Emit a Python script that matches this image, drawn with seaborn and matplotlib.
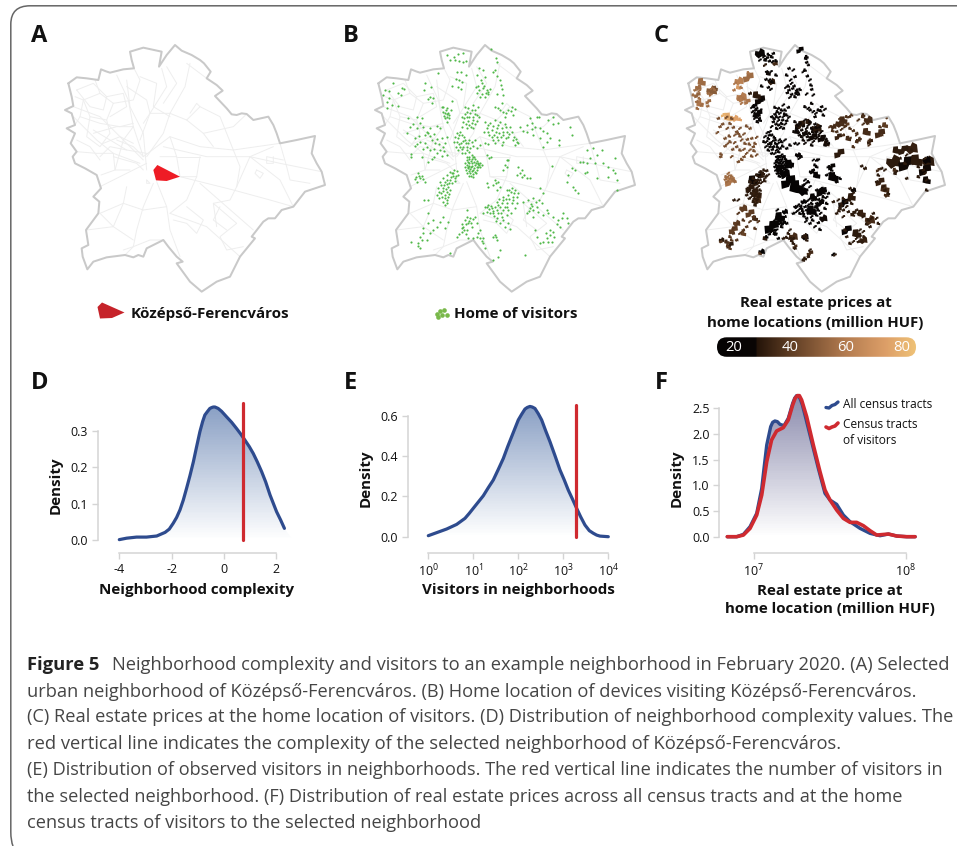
import numpy as np
import matplotlib
matplotlib.use("Agg")
import matplotlib.pyplot as plt
import seaborn as sns
from matplotlib.path import Path
from matplotlib.patches import PathPatch, Polygon, FancyBboxPatch
from matplotlib.colors import LinearSegmentedColormap
from matplotlib.ticker import LogFormatterMathtext, NullLocator, FixedLocator

sns.set_theme(style="white")
FONT = "Open Sans"
plt.rcParams["font.family"] = [FONT, "DejaVu Sans"]
plt.rcParams["mathtext.default"] = "regular"

W, H = 957, 846
BLUE, RED, INK = "#2e4b8e", "#cf2a30", "#111111"
GREY_AX = "#d4d4d4"

# ---------- map geometry (traced, units are 1/3 px) ----------
outline = [(205,250),(230,232),(260,235),(295,240),(303,208),(318,214),(330,218),(370,208),(402,205),(395,180),(390,155),(430,143),(485,155),(477,200),(500,165),(525,135),(545,152),(575,165),(600,180),(612,190),(632,215),(620,235),(650,255),(668,272),(645,288),(680,325),(695,343),(710,345),(725,340),(740,342),(760,360),(805,350),(820,375),(830,400),(840,430),(890,420),(945,408),(935,460),(950,490),(965,515),(975,555),(915,575),(880,620),(845,630),(825,655),(805,655),(790,665),(755,710),(765,715),(720,770),(690,830),(650,845),(605,875),(570,845),(530,790),(548,785),(530,770),(505,740),(490,720),(440,745),(430,770),(415,765),(400,772),(375,765),(320,772),(280,785),(262,808),(248,770),(245,745),(265,735),(258,690),(295,640),(298,605),(280,590),(303,565),(290,525),(255,505),(225,490),(218,470),(230,455),(212,430),(225,400),(200,385),(225,375),(215,340),(195,330),(220,318),(215,290),(205,250)]
tract_lines = [
 [(570,190),(555,260),(510,340),(490,400),(440,470)],
 [(350,225),(385,300),(400,380),(430,470)],
 [(485,205),(500,260),(450,340),(420,420)],
 [(220,320),(300,350),(370,420),(430,480)],
 [(215,345),(290,420),(340,460),(420,490)],
 [(430,470),(510,410),(600,440),(700,450),(840,430)],
 [(490,440),(620,470),(750,470),(840,490),(965,515)],
 [(540,530),(700,570),(810,600),(880,620)],
 [(600,470),(590,530),(560,600),(510,640)],
 [(470,545),(500,620),(510,690),(540,770)],
 [(460,550),(430,620),(410,690),(400,740),(375,765)],
 [(300,560),(380,520),(440,490)],
 [(300,640),(370,610),(430,630)],
 [(510,640),(620,680),(720,770)],
 [(600,550),(680,620),(760,690)],
 [(820,440),(750,470),(710,560),(690,600),(640,610),(650,680)],
 [(250,300),(300,280),(340,310),(320,360),(270,350),(250,300)],
 [(300,280),(285,240)],[(340,310),(400,300),(420,240),(402,205)],
 [(225,290),(250,300),(240,350),(225,375)],
 [(270,350),(260,410),(300,440),(330,400),(320,360)],
 [(230,455),(290,460),(340,460),(345,510),(303,525)],
 [(400,380),(370,420),(345,510),(390,510)],
 [(510,340),(560,360),(600,320),(590,310),(570,340)],
 [(600,320),(660,350),(700,450)],
 [(560,360),(610,400),(640,440)],
 [(610,400),(700,380),(740,342)],
 [(850,480),(800,470),(800,490),(820,490),(820,470)],
 [(770,510),(790,520),(780,535),(765,520),(770,510)],
 [(840,430),(860,500),(870,540),(930,550)],
 [(560,620),(610,660),(590,700),(560,670),(520,660)],
 [(640,610),(710,670),(660,710),(680,750),(730,740)],
 [(660,620),(640,660),(680,690)],
 [(380,560),(370,610),(340,680),(300,640)],
 [(340,680),(400,720)],[(260,690),(340,680)],
 [(370,750),(400,740),(450,720),(490,720)],
 [(430,630),(500,620)],[(440,540),(450,550),(440,550),(440,540)],
 [(480,470),(530,470),(540,530),(590,530)],
 [(530,470),(600,470)],[(510,410),(530,470)],
 [(700,450),(720,500),(710,560)],[(750,470),(840,540),(880,620)],
 [(380,260),(440,300),(450,340),(510,340)],[(560,190),(620,235)],
 [(350,420),(400,440),(430,470)],[(280,400),(350,380),(400,380)],
 [(300,470),(330,440),(380,450)],[(430,370),(450,340)],
 [(230,270),(280,250),(320,290),(310,330),(270,320),(230,270)],
 [(320,290),(370,280),(380,320),(330,350)],
 [(380,240),(390,320),(430,400),(440,510)],
 [(420,230),(470,250),(460,320),(510,350)],
 [(240,350),(300,370),(360,380),(400,370)],
 [(280,390),(330,420),(380,450),(440,460)],
 [(230,420),(270,440),(300,480)],
 [(340,470),(410,490),(430,510)],
 [(310,430),(360,410),(400,430)],
 [(500,200),(530,250),(490,310)],
]
selected_tract = [(460,510),(472,495),(540,530),(500,543),(468,541)]

# ---------- panels B and C: homes of visitors, grouped by district with the price of that district ----------
nw_hills = [(165,270),(178,272),(160,285),(190,250),(215,265),(223,268),(205,280),(212,285),(178,295),(170,305),(185,315),(172,325),(203,318)]
nw_upper = [(285,250),(303,262),(282,270),(300,290),(310,295),(295,298),(305,310),(325,218)]
north_pocket = [(352,165),(372,170),(385,163),(400,160),(360,180),(375,180),(388,183),(398,185),(408,182),(380,215),(393,215),(408,225),(378,238),(388,240),(396,245),(385,262),(393,268),(365,258),(365,302)]
north_east = [(483,147),(497,175),(500,187),(490,215),(495,210),(502,228),(510,240),(513,255),(515,268),(520,285),(515,310),(447,205),(460,210),(440,225),(465,230),(452,240),(445,258),(458,265),(470,270),(480,268),(442,278),(450,292),(465,290),(475,283),(500,282),(495,320),(510,330),(520,335),(535,330),(545,320),(555,328),(550,345),(525,350),(455,250),(468,280),(447,270),(505,325),(542,332),(462,258),(438,262),(473,275),(455,283),(528,340)]
river_north = [(340,320),(350,325),(338,335),(345,340),(355,338),(362,330),(350,350),(358,355),(345,355),(352,365),(347,330),(352,343),(343,348),(357,346),(336,322)]
pest_north = [(405,322),(415,325),(430,315),(435,330),(445,322),(420,340),(410,350),(395,350),(430,350),(440,345),(400,365),(415,362),(425,370),(440,362),(395,380),(410,385),(430,385),(390,395),(425,330),(405,342),(418,352),(434,342),(408,372),(422,382),(412,335),(428,360),(447,352),(402,355),(416,375),(436,372)]
pest_east = [(465,365),(480,370),(495,360),(510,365),(525,372),(540,380),(470,385),(485,390),(500,385),(515,385),(530,395),(545,395),(462,395),(478,405),(492,405),(508,400),(520,405),(535,410),(490,420),(505,420),(520,425),(515,435),(548,420),(560,425),(555,435),(565,430),(552,410),(473,375),(490,378),(505,376),(518,395),(527,415),(498,395),(485,410),(512,412),(538,402),(475,395),(502,410),(495,430),(528,382),(558,418)]
pest_far = [(570,380),(590,375),(605,370),(600,355),(620,350),(628,350),(615,380),(630,385),(590,395),(630,415),(650,425),(610,405),(655,360),(668,350),(683,370),(688,420),(720,380),(725,405),(688,435),(640,440),(650,400),(670,372),(578,392),(640,392),(605,388),(660,415)]
buda_mid = [(235,355),(260,352),(275,355),(240,380),(232,398),(270,370),(290,395),(300,385),(320,378),(330,385),(285,405),(295,400),(255,415),(262,432),(270,425),(255,438),(305,420),(315,430),(335,415),(350,412),(345,430),(340,440),(330,450),(243,462),(242,470),(275,470),(300,450),(290,440),(320,460),(305,478),(295,485),(350,465),(268,408),(280,382),(312,402),(328,432),(278,448),(312,448),(335,468),(248,372),(262,385),(300,408),(322,418),(284,428),(342,452),(312,470)]
inner_city = [(375,410),(385,415),(395,405),(380,425),(392,430),(405,420),(415,430),(425,425),(400,440),(410,450),(385,450),(395,460),(435,420),(450,435),(465,430),(475,432),(470,465),(483,470),(478,475),(403,412),(388,405),(398,424),(412,440),(420,445),(378,440),(407,430),(390,440),(418,420),(428,438),(440,445),(382,398),(372,425),(397,448),(405,460),(416,455),(386,432)]
dense_core = [(410,480),(418,470),(425,478),(432,470),(440,482),(450,488),(455,495),(410,495),(418,490),(427,490),(435,495),(445,500),(408,510),(415,505),(422,502),(430,510),(440,510),(412,520),(420,518),(428,522),(437,520),(430,532),(418,528),(405,500),(425,465),(414,486),(423,484),(431,486),(439,490),(447,494),(413,500),(426,497),(433,503),(418,512),(425,512),(434,516),(443,492),(436,476),(421,507),(406,488),(416,478),(428,470),(444,488),(451,500),(410,470),(424,528),(440,500),(417,498)]
sas_hill = [(265,520),(258,530),(270,535),(262,545),(275,528),(285,545),(266,528),(280,538),(256,538)]
ujbuda = [(360,515),(370,520),(380,512),(385,525),(350,525),(362,530),(375,535),(340,535),(352,540),(365,548),(330,545),(342,555),(355,560),(325,565),(340,572),(350,575),(360,570),(320,585),(335,590),(345,595),(355,590),(350,610),(340,605),(282,600),(295,600),(368,527),(356,548),(348,566),(334,580),(357,582),(346,585),(372,510),(378,528),(345,545),(333,556),(360,540),(326,575),(345,615),(338,563),(352,552),(366,518),(328,595),(352,600),(374,542)]
pest_mid = [(470,550),(495,540),(505,545),(490,555),(510,560),(475,560),(500,570),(535,480),(525,495),(520,510),(565,500),(575,510),(560,525),(590,535),(600,535),(575,530),(498,550),(530,500),(570,520),(530,480),(583,525)]
south_pest = [(530,570),(545,565),(555,570),(565,580),(535,585),(550,590),(520,590),(500,605),(515,610),(530,610),(545,610),(560,610),(465,620),(475,615),(485,625),(495,620),(470,635),(490,640),(505,640),(520,630),(535,630),(500,655),(515,650),(530,645),(510,670),(525,680),(540,688),(460,640),(478,628),(510,622),(527,598),(542,576),(488,632),(500,630),(470,622),(492,648),(512,640),(525,620),(552,578),(536,598),(508,598),(480,640),(538,570),(560,592),(548,600),(518,600),(505,615),(530,622),(482,618),(498,664),(518,660),(535,668),(542,640),(555,625)]
south_east = [(580,605),(595,600),(610,595),(630,565),(640,580),(600,625),(610,630),(620,620),(635,610),(590,640),(610,650),(640,645),(655,640),(670,650),(685,660),(700,640),(710,655),(715,670),(690,680),(670,695),(660,705),(665,725),(650,715),(615,690),(620,710),(640,725),(630,730),(602,612),(618,605),(597,632),(625,635),(660,690),(680,672),(655,725),(605,618),(628,600),(650,630),(695,655),(672,710),(648,700)]
csepel = [(412,630),(420,655),(435,650),(405,660),(415,670),(400,680),(410,690),(425,680),(440,670),(395,695),(380,710),(415,715),(408,672),(418,662),(403,690),(412,650),(395,685),(423,668),(428,658),(396,672),(388,702),(407,702)]
csepel_south = [(445,700),(430,715),(450,715),(460,730),(465,745),(490,710),(500,720),(495,705),(510,750),(490,780),(505,770),(585,765),(455,722),(498,712),(450,690),(440,712),(460,715)]
far_southwest = [(295,640),(310,660),(340,650),(355,665),(345,685),(320,680),(280,685),(270,710),(290,720),(265,730),(270,745),(242,725),(300,700),(360,760),(280,700),(330,665),(263,738),(310,690),(295,670),(275,720)]
far_east = [(770,450),(790,445),(815,450),(750,485),(770,488),(795,490),(820,490),(855,475),(835,500),(850,510),(860,540),(835,530),(800,535),(770,515),(765,520),(725,505),(735,510),(715,525),(710,545),(730,560),(745,580),(665,498),(855,520),(860,570),(780,475),(800,465),(760,487),(735,570)]
home_groups = [nw_hills, nw_upper, north_pocket, north_east, river_north, pest_north, pest_east, pest_far, buda_mid, inner_city, dense_core, sas_hill, ujbuda, pest_mid, south_pest, south_east, csepel, csepel_south, far_southwest, far_east]
group_prices = [55, 58, 26, 24, 27, 24, 28, 36, 46, 23, 18, 55, 30, 20, 21, 30, 17, 30, 38, 30]

# panel C: larger tracts (x, y, width, price in million HUF)
price_tracts = [(185,245,20,55),(175,262,16,55),(172,285,16,52),(180,310,18,58),(215,272,26,50),(205,305,14,55),(225,265,14,45),
(297,243,22,62),(325,232,26,55),(295,262,12,72),(305,292,26,60),(322,305,16,58),(265,350,22,78),(285,355,18,75),(250,345,12,80),(300,358,10,75),
(815,445,30,32),(790,450,25,30),(770,450,20,30),(760,485,35,30),(800,490,40,28),(830,480,30,30),(865,485,30,30),(855,510,30,28),(860,540,20,28),(860,480,20,25),(720,545,22,32),(735,565,22,35),(740,585,14,35),(715,510,12,35),(765,510,12,35),(675,505,10,30),
(598,460,25,30),(610,360,20,35),(600,370,22,35),(620,375,14,40),(635,345,8,40),(580,380,15,35),(595,410,18,32),(625,415,14,35),(655,420,12,35),(690,425,15,32),(680,395,20,35),(685,360,22,35),(720,400,25,35),(735,375,15,40),(740,355,6,40),(650,405,8,35),(670,345,10,35),
(360,160,25,22),(380,175,12,22),(395,170,10,22),(405,190,14,35),(375,195,10,30),(385,220,12,28),(395,245,18,30),(480,150,18,22),(500,170,10,25),(505,195,8,25),(360,300,25,28),(350,285,20,30),(345,315,12,25),(355,340,20,25),(360,360,10,25),(330,280,10,30),
(480,375,25,30),(505,365,15,30),(530,385,25,30),(520,410,20,28),(470,395,12,25),(495,400,15,28),(545,415,20,28),(560,430,15,30),
(435,520,25,20),(445,545,35,15),(470,560,35,15),(490,575,22,15),(420,505,20,22),(450,490,20,22),(475,465,14,25),(520,480,8,20),(530,525,18,20),(515,515,14,22),(575,500,18,22),(580,530,25,20),(590,545,10,22),
(545,575,25,20),(520,590,18,20),(490,605,14,20),(540,610,20,20),(515,630,25,20),(550,655,20,28),
(610,610,25,25),(635,590,20,30),(640,570,14,28),(640,640,15,30),(665,640,20,32),(690,660,25,35),(620,690,25,25),(650,700,22,30),(670,720,20,32),
(395,680,35,18),(420,650,25,15),(435,635,15,18),(430,670,14,18),(405,700,12,18),(460,710,22,35),(465,740,12,35),(375,715,12,30),(495,710,18,25),(510,760,16,35),(495,775,10,30),(365,755,16,15),(580,763,10,15),
(340,540,25,28),(360,525,18,28),(330,565,22,30),(350,580,25,32),(350,600,22,35),
(270,545,25,58),(265,535,12,65),
(310,625,20,40),(330,640,22,40),(345,655,15,35),(290,670,18,40),(280,690,22,40),(310,700,14,42),(245,720,14,30),(270,735,18,30),(260,725,12,35)]
small_tract_width = 9

# ---------- density curves ----------
d_x = [-4,-3.72,-3.34,-2.96,-2.57,-2.25,-2.09,-1.94,-1.81,-1.68,-1.554,-1.43,-1.30,-1.17,-1.045,-0.92,-0.815,-0.73,-0.637,-0.54,-0.471,-0.41,-0.344,-0.28,-0.22,-0.089,0.10,0.293,0.48,0.637,0.80,0.968,1.12,1.274,1.44,1.593,1.76,1.885,2.01,2.166,2.31]
d_y = [.001,.005,.008,.008,.011,.021,.030,.046,.062,.083,.110,.142,.177,.215,.257,.298,.326,.344,.353,.362,.3645,.366,.366,.364,.362,.354,.339,.324,.307,.292,.275,.257,.238,.215,.188,.160,.124,.101,.078,.055,.032]
d_red = 0.727
e_log = [0,.185,.407,.63,.815,.911,1,1.111,1.222,1.333,1.444,1.556,1.667,1.763,1.852,2,2.074,2.148,2.2,2.259,2.311,2.370,2.444,2.519,2.607,2.704,2.815,2.926,3.022,3.111,3.207,3.296,3.385,3.481,3.578,3.667,3.741,3.815,4]
e_y = [.005,.020,.038,.061,.091,.116,.141,.172,.203,.243,.281,.334,.388,.446,.496,.579,.607,.633,.641,.646,.643,.636,.610,.579,.526,.471,.402,.331,.281,.231,.185,.141,.099,.058,.030,.017,.008,.003,0]
e_red = 1910
f_all_log = [6.824,6.886,6.930,6.974,7.018,7.051,7.066,7.084,7.110,7.123,7.138,7.154,7.171,7.198,7.226,7.255,7.268,7.281,7.292,7.303,7.319,7.336,7.380,7.424,7.468,7.501,7.545,7.589,7.633,7.699,7.765,7.831,7.886,7.941,8.007,8.062]
f_all_y = [0,0,.045,.195,.455,.94,1.331,1.786,2.143,2.227,2.253,2.240,2.188,2.162,2.305,2.597,2.695,2.747,2.740,2.695,2.565,2.370,1.851,1.331,.844,.714,.630,.422,.292,.162,.065,.019,.052,.013,0,0]
f_vis_log = [6.824,6.886,6.930,6.974,7.018,7.051,7.084,7.116,7.149,7.193,7.226,7.255,7.271,7.286,7.299,7.314,7.347,7.391,7.435,7.468,7.501,7.545,7.589,7.633,7.677,7.721,7.765,7.809,7.886,7.941,8.007,8.062]
f_vis_y = [0,0,.032,.162,.422,.812,1.461,1.883,2.058,2.123,2.273,2.565,2.695,2.747,2.747,2.662,2.338,1.786,1.266,.909,.714,.519,.357,.279,.279,.214,.117,.032,.052,.013,0,0]

caption = ["Neighborhood complexity and visitors to an example neighborhood in February 2020. (A) Selected",
 "urban neighborhood of Középső-Ferencváros. (B) Home location of devices visiting Középső-Ferencváros.",
 "(C) Real estate prices at the home location of visitors. (D) Distribution of neighborhood complexity values. The",
 "red vertical line indicates the complexity of the selected neighborhood of Középső-Ferencváros.",
 "(E) Distribution of observed visitors in neighborhoods. The red vertical line indicates the number of visitors in",
 "the selected neighborhood. (F) Distribution of real estate prices across all census tracts and at the home",
 "census tracts of visitors to the selected neighborhood"]
caption_y = [665, 691.7, 717.5, 744, 770, 796.7, 823]
caption_right = [946, 914, 951, 836, 942, 900, 480]

# ---------- figure ----------
fig = plt.figure(figsize=(W/100, H/100), dpi=100, facecolor="white")
ov = fig.add_axes([0, 0, 1, 1], zorder=5)
ov.set_xlim(0, W); ov.set_ylim(H, 0); ov.axis("off"); ov.patch.set_alpha(0)

frame = Path([(957,5.8),(30,5.8),(11,5.8),(10.8,24),(10.8,832),(10.8,841),(13,846)],
             [Path.MOVETO,Path.LINETO,Path.CURVE3,Path.CURVE3,Path.LINETO,Path.CURVE3,Path.CURVE3])
ov.add_patch(PathPatch(frame, fc="none", ec="#666666", lw=1.1))

LABEL = 10.9
def txt(x, y, s, size=LABEL, weight="bold", ha="left", color=INK, **k):
    return ov.text(x, y, s, fontsize=size, fontweight=weight, ha=ha, va="center", color=color, **k)

for (x, y, s) in [(31,36,"A"),(343,36,"B"),(654,36,"C"),(31,383,"D"),(344,383,"E"),(655,383,"F")]:
    txt(x, y, s, size=17)

def map_axes(px_left):
    ax = fig.add_axes([px_left/W, 1-340/H, 340/W, 340/H], zorder=1)
    ax.set_xlim(0, 1020); ax.set_ylim(1020, 0); ax.axis("off"); ax.patch.set_alpha(0)
    ox, oy = zip(*outline)
    for line in tract_lines:
        lx, ly = zip(*line)
        ax.plot(lx, ly, color="#eeeeee", lw=0.7, zorder=1)
    ax.plot(ox, oy, color="#c9c9c9", lw=1.45, zorder=2, solid_joinstyle="round")
    return ax

axA = map_axes(0)
axA.add_patch(Polygon(selected_tract, closed=True, fc="#ee1c25", ec="none", zorder=3))
ov.add_patch(Polygon([(97.5,307),(102,302.5),(124.5,312.5),(112,318),(100,318.5)], closed=True, fc="#c6232a", ec="none"))
txt(131, 314, "Középső-Ferencváros")

home_x = [p[0] for g in home_groups for p in g]
home_y = [p[1] for g in home_groups for p in g]
home_price = [v for g, v in zip(home_groups, group_prices) for p in g]

axB = map_axes(310)
sns.scatterplot(x=np.array(home_x)+60, y=home_y, ax=axB, s=2.4, color="#4fb848", linewidth=0, zorder=4, legend=False)
axB.set_xlabel(""); axB.set_ylabel("")
legend_dots_x = [437.5, 439.5, 443.5, 447, 441.5, 436.5]
legend_dots_y = [317.5, 311.5, 310, 315, 315, 314]
sns.scatterplot(x=legend_dots_x, y=legend_dots_y, ax=ov, s=11, color="#79b84a", linewidth=0, legend=False)
ov.set_xlabel(""); ov.set_ylabel("")
ov.set_xlim(0, W); ov.set_ylim(H, 0)
txt(453.5, 314, "Home of visitors")

price_cmap = LinearSegmentedColormap.from_list("price", [(0,"#050303"),(0.195,"#0a0605"),(0.20,"#241409"),
    (0.36,"#5c3b22"),(0.65,"#b47c50"),(0.85,"#dd9f68"),(1,"#efc277")])
price_lim = (14, 85)
shapes = {
 0: Path([(-1,-.6),(-.1,-.85),(.9,-1),(1,.1),(.35,.2),(.3,.9),(-.8,.8),(-1,-.6)], closed=True),
 1: Path([(-1,-.25),(-.3,-1),(.3,-.6),(1,-.7),(.85,.6),(.1,1),(-.2,.35),(-.9,.45),(-1,-.25)], closed=True),
 2: Path([(-.9,-1),(.1,-.7),(.3,-.2),(1,-.1),(.9,.9),(-.3,.75),(-.35,.15),(-1,.1),(-.9,-1)], closed=True),
}
all_x = [t[0] for t in price_tracts] + home_x
all_y = [t[1] for t in price_tracts] + home_y
all_w = [t[2] for t in price_tracts] + [small_tract_width]*len(home_x)
all_p = [t[3] for t in price_tracts] + home_price
all_shape = [i % 3 for i in range(len(all_x))]
axC = map_axes(620)
sns.scatterplot(x=np.array(all_x)+60, y=all_y, hue=all_p, palette=price_cmap, hue_norm=price_lim,
                style=all_shape, markers=shapes, s=(np.array(all_w)/3*0.72*1.25)**2, linewidth=0, ax=axC, zorder=4, legend=False)
axC.set_xlabel(""); axC.set_ylabel("")
txt(815.5, 302.5, "Real estate prices at", ha="center", size=10.8)
txt(815.5, 322.5, "home locations (million HUF)", ha="center", size=10.8)

axCB = fig.add_axes([717/W, 1-357/H, 199/W, 20/H], zorder=3)
axCB.set_xlim(*price_lim); axCB.set_ylim(0, 1); axCB.axis("off")
im = axCB.imshow(np.linspace(0, 1, 256)[None, :], extent=(*price_lim, 0, 1), aspect="auto", cmap=price_cmap, zorder=1)
pill = FancyBboxPatch((717, 337.3), 199, 19.5, boxstyle="round,pad=0,rounding_size=9.7",
                      transform=ov.transData, fc="none", ec="none")
ov.add_patch(pill)
im.set_clip_path(pill.get_path(), pill.get_transform())
for v in [20, 40, 60, 80]:
    axCB.text(v, 0.47, str(v), ha="center", va="center", color="white", fontsize=10.6)

def panel(px_left, px_right, px_top, px_bottom, xmap, ymap, log=False):
    ax = fig.add_axes([px_left/W, 1-px_bottom/H, (px_right-px_left)/W, (px_bottom-px_top)/H], zorder=2)
    (v0, p0), (v1, p1) = xmap
    if log:
        a0, a1 = np.log10(v0), np.log10(v1)
        s = (a1-a0)/(p1-p0)
        ax.set_xscale("log")
        ax.set_xlim(10**(a0+(px_left-p0)*s), 10**(a0+(px_right-p0)*s))
    else:
        s = (v1-v0)/(p1-p0)
        ax.set_xlim(v0+(px_left-p0)*s, v0+(px_right-p0)*s)
    (u0, q0), (u1, q1) = ymap
    t = (u1-u0)/(q1-q0)
    ax.set_ylim(u0+(px_bottom-q0)*t, u0+(px_top-q0)*t)
    ax.patch.set_alpha(0)
    for sp in ["top", "right"]:
        ax.spines[sp].set_visible(False)
    for sp in ["left", "bottom"]:
        ax.spines[sp].set_color(GREY_AX); ax.spines[sp].set_linewidth(1.1)
    ax.spines["left"].set_bounds(u0, u1)
    ax.spines["bottom"].set_bounds(v0, v1)
    ax.tick_params(axis="both", length=4, width=1.0, color=GREY_AX, labelsize=9.0, labelcolor=INK, pad=3,
                   which="major", left=True, bottom=True)
    ax.grid(False)
    return ax

def gradient_under(ax, xs, ys, top, ymax):
    cmap = LinearSegmentedColormap.from_list("g", ["#ffffff", top])
    yedges = np.linspace(0, ymax, 81)
    z = (0.5*(yedges[:-1]+yedges[1:])/ymax)[:, None]
    xl = ax.get_xlim()
    m = ax.pcolormesh(list(xl), yedges, z, cmap=cmap, vmin=0, vmax=1, shading="flat", zorder=1, linewidth=0, antialiased=False)
    poly = Polygon(list(zip(xs, ys)) + [(xs[-1], 0), (xs[0], 0)], closed=True, transform=ax.transData, fc="none", ec="none")
    ax.add_patch(poly)
    m.set_clip_path(poly)
    ax.set_xlim(*xl)

def curve(ax, xs, ys, color, lw=2.3, z=3):
    sns.lineplot(x=xs, y=ys, ax=ax, color=color, linewidth=lw, sort=False, estimator=None, errorbar=None,
                 solid_capstyle="round", solid_joinstyle="round", zorder=z, legend=False, clip_on=False)

LIGHT_TOP = "#8aa0c4"
axD = panel(97.7, 310, 395, 553.3, ((-4, 119.3), (2, 276.3)), ((0, 540), (0.3, 431)))
gradient_under(axD, d_x + [2.65], d_y + [0.0], LIGHT_TOP, max(d_y))
curve(axD, d_x, d_y, BLUE)
axD.plot([d_red, d_red], [0.0, 0.376], color=RED, lw=2.3, solid_capstyle="round", zorder=4, clip_on=False)
axD.xaxis.set_major_locator(FixedLocator([-4, -2, 0, 2]))
axD.yaxis.set_major_locator(FixedLocator([0, .1, .2, .3]))
axD.set_yticklabels(["0.0", "0.1", "0.2", "0.3"])
axD.set_xticklabels(["-4", "-2", "0", "2"])

e_x = [10**v for v in e_log]
axE = panel(407.7, 625, 395, 553.3, ((1, 428.3), (1e4, 608.3)), ((0, 536.7), (0.6, 415.7)), log=True)
gradient_under(axE, e_x, e_y, LIGHT_TOP, max(e_y))
curve(axE, e_x, e_y, BLUE)
axE.plot([e_red, e_red], [0.0, 0.653], color=RED, lw=2.3, solid_capstyle="round", zorder=4, clip_on=False)
axE.xaxis.set_major_locator(FixedLocator([1, 10, 100, 1000, 10000]))
axE.xaxis.set_major_formatter(LogFormatterMathtext())
axE.xaxis.set_minor_locator(NullLocator())
axE.yaxis.set_major_locator(FixedLocator([0, .2, .4, .6]))
axE.set_yticklabels(["0.0", "0.2", "0.4", "0.6"])

f_all_x = [10**v for v in f_all_log]
f_vis_x = [10**v for v in f_vis_log]
axF = panel(719.3, 935, 385, 553.3, ((1e7, 754), (1e8, 905.7)), ((0, 536.7), (2.5, 408.3)), log=True)
gradient_under(axF, f_all_x, f_all_y, "#8b8bad", max(f_all_y))
curve(axF, f_all_x, f_all_y, BLUE, lw=2.4, z=3)
curve(axF, f_vis_x, f_vis_y, RED, lw=2.6, z=4)
axF.xaxis.set_major_locator(FixedLocator([1e7, 1e8]))
axF.xaxis.set_major_formatter(LogFormatterMathtext())
axF.xaxis.set_minor_locator(NullLocator())
axF.yaxis.set_major_locator(FixedLocator([0, .5, 1, 1.5, 2, 2.5]))
axF.set_yticklabels(["0.0", "0.5", "1.0", "1.5", "2.0", "2.5"])

def labels(ax, xl, xpos, ypos, lx, ly):
    ax.set_xlabel(xl, fontsize=LABEL, fontweight="bold", color=INK, va="center", ha="center", linespacing=1.35)
    ax.xaxis.set_label_coords(xpos, ypos, transform=ov.transData)
    ax.set_ylabel("Density", fontsize=LABEL, fontweight="bold", color=INK, va="center", ha="center")
    ax.yaxis.set_label_coords(lx, ly, transform=ov.transData)

labels(axD, "Neighborhood complexity", 197, 590, 55.5, 485)
labels(axE, "Visitors in neighborhoods", 518, 590, 365.5, 478)
labels(axF, "Real estate price at\nhome location (million HUF)", 830, 600, 676.5, 478)

leg_x = [826, 829, 832, 835, 838]
ov.plot(leg_x, [407.5, 408, 405.5, 404.5, 402], color=BLUE, lw=2.4, solid_capstyle="round")
ov.plot(leg_x, [427, 428.5, 427, 426, 423], color=RED, lw=2.6, solid_capstyle="round")
txt(843, 404, "All census tracts", size=8.6, weight="normal")
txt(843, 425, "Census tracts", size=8.6, weight="normal")
txt(843, 441, "of visitors", size=8.6, weight="normal")

# caption: every line is sized so that it ends where the reference line ends
CAP = 13.0
CAPC = "#454545"
txt(27, caption_y[0], "Figure 5", size=13.2, weight="bold", color="#222222")
fig.canvas.draw()
rend = fig.canvas.get_renderer()
for i, (yy, line, right) in enumerate(zip(caption_y, caption, caption_right)):
    left = 112 if i == 0 else 27
    t = txt(left, yy, line, size=CAP, weight="normal", color=CAPC)
    w = t.get_window_extent(rend).width
    t.set_fontsize(CAP * (right-left) / w)

fig.savefig("out.png", dpi=100, facecolor="white")
